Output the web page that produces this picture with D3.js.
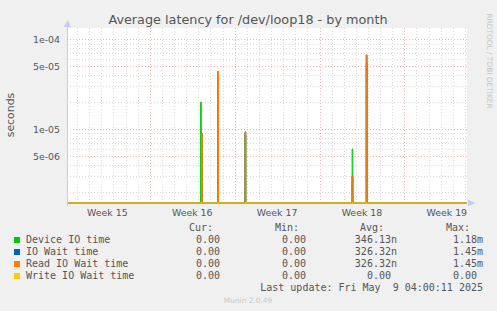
<!DOCTYPE html>
<html>
<head>
<meta charset="utf-8">
<script src="https://cdnjs.cloudflare.com/ajax/libs/d3/7.8.5/d3.min.js"></script>
<style>
body { margin: 0; background: #f0f0f0; }
svg { display: block; font-family: "DejaVu Sans", sans-serif; }
.mono { font-family: "DejaVu Sans Mono", monospace; }
</style>
</head>
<body>
<script>
var width = 497, height = 311;

var title = "Average latency for /dev/loop18 - by month";
var seriesNames = ["Device IO time", "IO Wait time", "Read IO Wait time", "Write IO Wait time"];
var seriesColors = ["#00cc00", "#0066b3", "#ff8000", "#ffcc00"];
var curValues = ["0.00 ", "0.00 ", "0.00 ", "0.00 "];
var minValues = ["0.00 ", "0.00 ", "0.00 ", "0.00 "];
var avgValues = ["346.13n", "326.32n", "326.32n", "0.00 "];
var maxValues = ["1.18m", "1.45m", "1.45m", "0.00 "];
var yTicks = [1e-4, 5e-5, 1e-5, 5e-6];
var yTickLabels = ["1e-04", "5e-05", "1e-05", "5e-06"];
var lastUpdate = "Last update: Fri May  9 04:00:11 2025";

// 2h samples that are not zero, [end of sample, seconds]
var deviceIO = [["2025-04-17 06:00", 2.0e-5], ["2025-04-18 16:00", 4.0e-5], ["2025-04-20 22:00", 8.5e-6],
                ["2025-04-29 18:00", 6.0e-6], ["2025-04-30 22:00", 5.5e-5]];
var ioWait = [["2025-04-17 08:00", 9.0e-6], ["2025-04-18 16:00", 4.4e-5], ["2025-04-20 22:00", 9.3e-6],
              ["2025-04-29 18:00", 3.0e-6], ["2025-04-30 22:00", 6.7e-5]];
var readIOWait = [["2025-04-17 08:00", 9.0e-6], ["2025-04-18 16:00", 4.4e-5], ["2025-04-20 22:00", 9.3e-6],
                  ["2025-04-29 18:00", 3.0e-6], ["2025-04-30 22:00", 6.7e-5]];
var writeIOWait = [];

var parse = d3.timeParse("%Y-%m-%d %H:%M");
var endTime = new Date(2025, 4, 9, 4, 0, 11);
var startTime = d3.timeDay.offset(endTime, -33);

var svg = d3.select("body").append("svg")
    .attr("width", width).attr("height", height)
    .style("background", "#f0f0f0");

var pLeft = 67, pRight = 467, pTop = 28, pBottom = 203;

var x = d3.scaleTime().domain([startTime, endTime]).range([pLeft, pRight]);
var y = d3.scaleLog().domain([1.5e-6, 1.34e-4]).range([pBottom, pTop]);

svg.append("rect").attr("x", pLeft).attr("y", pTop)
    .attr("width", pRight - pLeft).attr("height", pBottom - pTop).attr("fill", "#fff");

// horizontal grid
var hMinor = [], hMajor = [];
[-6, -5, -4].forEach(function(e) {
    for (var k = 1; k <= 9; k++) {
        var v = k * Math.pow(10, e);
        if (v < y.domain()[0] || v > y.domain()[1]) continue;
        if (k == 1 || k == 5) hMajor.push(v); else hMinor.push(v);
    }
});
var days = d3.timeDay.range(d3.timeDay.ceil(startTime), endTime);
var vMinor = days.filter(function(d) { return d.getDay() != 0; });
var vMajor = d3.timeSunday.range(startTime, endTime);

var grid = svg.append("g").attr("shape-rendering", "crispEdges");
grid.selectAll(".hmin").data(hMinor).enter().append("line")
    .attr("x1", pLeft).attr("x2", pRight)
    .attr("y1", function(d) { return Math.round(y(d)) + 0.5; })
    .attr("y2", function(d) { return Math.round(y(d)) + 0.5; })
    .attr("stroke", "#dadada").attr("stroke-dasharray", "1,2");
grid.selectAll(".vmin").data(vMinor).enter().append("line")
    .attr("y1", pTop).attr("y2", pBottom)
    .attr("x1", function(d) { return Math.round(x(d)) + 0.5; })
    .attr("x2", function(d) { return Math.round(x(d)) + 0.5; })
    .attr("stroke", "#dadada").attr("stroke-dasharray", "1,2");
grid.selectAll(".hmaj").data(hMajor).enter().append("line")
    .attr("x1", pLeft).attr("x2", pRight)
    .attr("y1", function(d) { return Math.round(y(d)) + 0.5; })
    .attr("y2", function(d) { return Math.round(y(d)) + 0.5; })
    .attr("stroke", "#f2b4b4").attr("stroke-dasharray", "1,2");
grid.selectAll(".vmaj").data(vMajor).enter().append("line")
    .attr("y1", pTop).attr("y2", pBottom)
    .attr("x1", function(d) { return Math.round(x(d)) + 0.5; })
    .attr("x2", function(d) { return Math.round(x(d)) + 0.5; })
    .attr("stroke", "#f2b4b4").attr("stroke-dasharray", "1,2");

// series lines, zero is clamped to the bottom of the log axis
var line = d3.line()
    .x(function(d) { return x(d[0]); })
    .y(function(d) { return d[1] > 0 ? y(d[1]) : pBottom; });

function points(spikes) {
    var p = [[startTime, 0]];
    spikes.forEach(function(s) {
        var t = parse(s[0]), t0 = d3.timeMinute.offset(t, -90);
        p.push([t0, 0], [t0, s[1]], [t, s[1]], [t, 0]);
    });
    p.push([endTime, 0]);
    return p;
}

[deviceIO, ioWait, readIOWait, writeIOWait].forEach(function(s, i) {
    svg.append("path").attr("d", line(points(s)))
        .attr("fill", "none").attr("stroke", seriesColors[i]).attr("stroke-width", 1);
});

// axes
var axisColor = "#c8c8f8";
svg.append("line").attr("x1", pLeft + 0.5).attr("x2", pLeft + 0.5).attr("y1", pBottom + 3).attr("y2", pTop - 2)
    .attr("stroke", axisColor);
svg.append("path").attr("d", "M" + (pLeft - 3) + "," + (pTop - 1) + "L" + (pLeft + 0.5) + "," + (pTop - 8) + "L" + (pLeft + 4) + "," + (pTop - 1) + "Z")
    .attr("fill", axisColor);
svg.append("path").attr("d", "M" + (pRight + 1) + "," + (pBottom - 3.5) + "L" + (pRight + 8) + "," + pBottom + "L" + (pRight + 1) + "," + (pBottom + 3.5) + "Z")
    .attr("fill", axisColor);

// y tick labels
svg.selectAll(".ytick").data(yTicks).enter().append("text")
    .attr("x", 60).attr("y", function(d) { return y(d) + 3.5; })
    .attr("text-anchor", "end").attr("font-size", "9.4px").attr("fill", "#555")
    .text(function(d, i) { return yTickLabels[i]; });

// week labels in the middle of each week
var weekFmt = d3.timeFormat("Week %V");
var weekMids = d3.timeSunday.range(d3.timeSunday.floor(startTime), endTime)
    .map(function(d) { return new Date(+d + 3.5 * 864e5); })
    .filter(function(d) { return x(d) > pLeft && x(d) < pRight; });
svg.selectAll(".xtick").data(weekMids).enter().append("text")
    .attr("x", function(d) { return x(d); }).attr("y", 216)
    .attr("text-anchor", "middle").attr("font-size", "9.4px").attr("fill", "#555")
    .text(function(d) { return weekFmt(d); });

svg.append("text").attr("x", 248).attr("y", 24)
    .attr("text-anchor", "middle").attr("font-size", "12.8px").attr("fill", "#555")
    .text(title);

svg.append("text").attr("transform", "translate(14,115) rotate(-90)")
    .attr("text-anchor", "middle").attr("font-size", "10.9px").attr("fill", "#555")
    .text("seconds");

svg.append("text").attr("transform", "translate(487,61) rotate(90)")
    .attr("text-anchor", "middle").attr("font-size", "7.4px").attr("fill", "#c4c4c4")
    .text("RRDTOOL / TOBI OETIKER");

// legend
var legend = svg.append("g").attr("class", "mono").attr("font-size", "10px").attr("fill", "#555");
var headers = [["Cur:", 213], ["Min:", 299], ["Avg:", 384], ["Max:", 470]];
headers.forEach(function(h) {
    legend.append("text").attr("x", h[1]).attr("y", 231).attr("text-anchor", "end").text(h[0]);
});
seriesNames.forEach(function(n, i) {
    var yy = 243 + i * 12;
    legend.append("rect").attr("x", 14).attr("y", yy - 6).attr("width", 6).attr("height", 6)
        .attr("fill", seriesColors[i]);
    legend.append("text").attr("x", 26).attr("y", yy).text(n);
    [[curValues, 226], [minValues, 312], [avgValues, 397], [maxValues, 483]].forEach(function(c) {
        legend.append("text").attr("xml:space", "preserve").attr("x", c[1]).attr("y", yy)
            .attr("text-anchor", "end").text(c[0][i]);
    });
});
legend.append("text").attr("xml:space", "preserve").attr("x", 483).attr("y", 291)
    .attr("text-anchor", "end").text(lastUpdate);

svg.append("text").attr("x", 248).attr("y", 303)
    .attr("text-anchor", "middle").attr("font-size", "7.4px").attr("fill", "#c8c8c8")
    .text("Munin 2.0.49");
</script>
</body>
</html>
